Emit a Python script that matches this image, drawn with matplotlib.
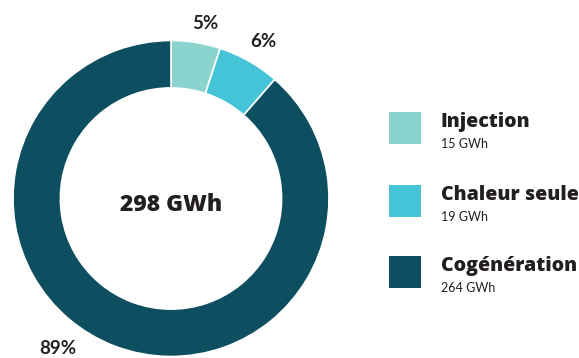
import matplotlib
matplotlib.use("Agg")
import matplotlib.pyplot as plt
from matplotlib.patches import Rectangle
import numpy as np

# Energy use breakdown (GWh)
categories = ["Injection", "Chaleur seule", "Cogénération"]
values = [15, 19, 264]
pct_labels = ["5%", "6%", "89%"]
colors = ["#8bd3ce", "#45c4d7", "#0d4e61"]
total = sum(values)

plt.rcParams["font.family"] = ["Lato", "DejaVu Sans"]
HEAD = ["Open Sans", "DejaVu Sans"]
TEXT = "#231f20"

W, H = 579, 358
fig = plt.figure(figsize=(W / 100, H / 100), dpi=100)

# Donut axes: centre (171, 198.5) px, outer radius 158 px
cx, cy, R = 171, 198.5, 158
ax = fig.add_axes([(cx - R) / W, (H - cy - R) / H, 2 * R / W, 2 * R / H])
ax.pie(values, colors=colors, startangle=90, counterclock=False,
       wedgeprops=dict(width=0.30, edgecolor="white", linewidth=1.2))
ax.set_xlim(-1, 1)
ax.set_ylim(-1, 1)
ax.set_aspect("equal")
ax.axis("off")

ax.text(0, -0.04, f"{total} GWh", ha="center", va="center", family=HEAD,
        fontsize=16.5, fontweight="heavy", color=TEXT)

# Percentage labels outside the ring
label_pos = [(79, 1.13), (59.5, 1.15), (-127, 1.19)]
for lab, (ang, r) in zip(pct_labels, label_pos):
    a = np.deg2rad(ang)
    ax.text(r * np.cos(a), r * np.sin(a), lab, ha="center", va="center",
            fontsize=13.5, fontweight="bold", color=TEXT)

# Legend drawn on a pixel-space overlay
lg = fig.add_axes([0, 0, 1, 1])
lg.set_xlim(0, W)
lg.set_ylim(H, 0)
lg.axis("off")
box_tops = [112, 185, 256]
for name, v, c, top in zip(categories, values, colors, box_tops):
    lg.add_patch(Rectangle((389, top), 32, 32, facecolor=c, edgecolor="none"))
    lg.text(441, top + 15, name, ha="left", va="baseline", family=HEAD,
            fontsize=14, fontweight="heavy", color=TEXT)
    lg.text(441, top + 36, f"{v} GWh", ha="left", va="baseline",
            fontsize=9, color=TEXT)

fig.savefig("out.png", dpi=100)
